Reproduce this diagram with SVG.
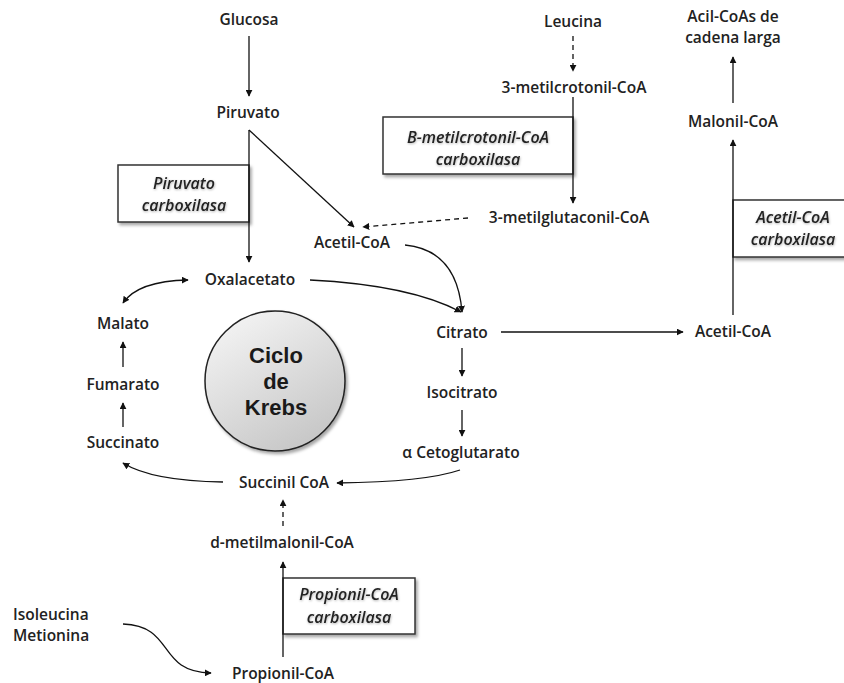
<svg xmlns="http://www.w3.org/2000/svg" width="844" height="683" viewBox="0 0 844 683">
<defs>
<style>
.t{font-family:"Open Sans",Lato,"Liberation Sans",sans-serif;font-size:15.5px;font-weight:600;fill:#222;text-anchor:middle}
.l{text-anchor:start}
.e{font-family:"Open Sans",Lato,"Liberation Sans",sans-serif;font-size:16px;font-style:italic;font-weight:600;fill:#222;text-anchor:middle}
.k{font-family:"Liberation Sans",Arial,sans-serif;font-size:22px;font-weight:bold;fill:#1a1a1a;text-anchor:middle}
.c{fill:none;stroke:#111;stroke-width:1.3}
.d{stroke-dasharray:5,4}
.box{fill:#fff;stroke:#333;stroke-width:1.5}
</style>
<marker id="a" viewBox="0 0 10 10" refX="9" refY="5" markerWidth="7" markerHeight="7" markerUnits="userSpaceOnUse" orient="auto-start-reverse">
<path d="M0,0 L10,5 L0,10 Z" fill="#111"/>
</marker>
<filter id="sh" x="-10%" y="-10%" width="130%" height="140%">
<feDropShadow dx="2" dy="2.5" stdDeviation="1.5" flood-color="#000" flood-opacity="0.35"/>
</filter>
<filter id="ts" x="-10%" y="-30%" width="120%" height="160%">
<feDropShadow dx="0.5" dy="1" stdDeviation="1" flood-color="#000" flood-opacity="0.3"/>
</filter>
<linearGradient id="g" x1="0.2" y1="0" x2="0.8" y2="1">
<stop offset="0" stop-color="#f4f4f4"/>
<stop offset="1" stop-color="#c4c4c4"/>
</linearGradient>
</defs>
<rect width="844" height="683" fill="#fff"/>

<g id="enzymes">
<g id="piruvato-carboxilasa">
<rect class="box" x="118" y="165" width="131" height="57" filter="url(#sh)"/>
<text class="e" x="184" y="189" filter="url(#ts)">Piruvato</text>
<text class="e" x="184" y="211" filter="url(#ts)">carboxilasa</text>
</g>
<g id="bmetilcrotonil-carboxilasa">
<rect class="box" x="383" y="117" width="190" height="57" filter="url(#sh)"/>
<text class="e" x="478" y="143" filter="url(#ts)">B-metilcrotonil-CoA</text>
<text class="e" x="478" y="165" filter="url(#ts)">carboxilasa</text>
</g>
<g id="acetilcoa-carboxilasa">
<rect class="box" x="733" y="200" width="120" height="57" filter="url(#sh)"/>
<text class="e" x="793" y="223" filter="url(#ts)">Acetil-CoA</text>
<text class="e" x="793" y="245" filter="url(#ts)">carboxilasa</text>
</g>
<g id="propionil-carboxilasa">
<rect class="box" x="283" y="578" width="132" height="56" filter="url(#sh)"/>
<text class="e" x="349" y="600" filter="url(#ts)">Propionil-CoA</text>
<text class="e" x="349" y="623" filter="url(#ts)">carboxilasa</text>
</g>
</g>

<g id="connectors">
<line class="c" x1="249" y1="36" x2="249" y2="96" marker-end="url(#a)"/>
<line class="c" x1="249" y1="130" x2="249" y2="262" marker-end="url(#a)"/>
<line class="c" x1="249" y1="130" x2="354" y2="227" marker-end="url(#a)"/>
<line class="c d" x1="573" y1="36" x2="573" y2="71" marker-end="url(#a)"/>
<line class="c" x1="573" y1="97" x2="573" y2="203" marker-end="url(#a)"/>
<line class="c d" x1="468" y1="218" x2="363" y2="227" marker-end="url(#a)"/>
<line class="c" x1="733" y1="103" x2="733" y2="57" marker-end="url(#a)"/>
<line class="c" x1="733" y1="315" x2="733" y2="140" marker-end="url(#a)"/>
<line class="c" x1="501" y1="332" x2="683" y2="332" marker-end="url(#a)"/>
<path class="c" d="M405,245 Q457,250 462,312" marker-end="url(#a)"/>
<path class="c" d="M310,280 Q410,285 461,312" marker-end="url(#a)"/>
<path class="c" d="M188,280 Q138,281 123,303" marker-start="url(#a)" marker-end="url(#a)"/>
<line class="c" x1="123" y1="367" x2="123" y2="342" marker-end="url(#a)"/>
<line class="c" x1="123" y1="427" x2="123" y2="403" marker-end="url(#a)"/>
<line class="c" x1="462" y1="348" x2="462" y2="376" marker-end="url(#a)"/>
<line class="c" x1="462" y1="410" x2="462" y2="436" marker-end="url(#a)"/>
<path class="c" d="M460,470 Q425,482 337,483" marker-end="url(#a)"/>
<path class="c" d="M223,482 Q152,481 123,463" marker-end="url(#a)"/>
<line class="c d" x1="283" y1="526" x2="283" y2="500" marker-end="url(#a)"/>
<line class="c" x1="283" y1="657" x2="283" y2="562" marker-end="url(#a)"/>
<path class="c" d="M123,624 C176,626 156,672 211,673" marker-end="url(#a)"/>
</g>

<g id="krebs">
<circle cx="275" cy="381" r="70" fill="url(#g)" stroke="#222" stroke-width="1.5" filter="url(#sh)"/>
<text class="k" x="276" y="363">Ciclo</text>
<text class="k" x="276" y="389">de</text>
<text class="k" x="276" y="415">Krebs</text>
</g>

<g id="nodes">
<g id="glucosa"><text class="t" x="249" y="25">Glucosa</text></g>
<g id="piruvato"><text class="t" x="248" y="118">Piruvato</text></g>
<g id="acetilcoa1"><text class="t" x="352" y="248">Acetil-CoA</text></g>
<g id="oxalacetato"><text class="t" x="250" y="285">Oxalacetato</text></g>
<g id="malato"><text class="t" x="123" y="329">Malato</text></g>
<g id="fumarato"><text class="t" x="123" y="390">Fumarato</text></g>
<g id="succinato"><text class="t" x="123" y="448">Succinato</text></g>
<g id="succinilcoa"><text class="t" x="284" y="488">Succinil CoA</text></g>
<g id="dmetilmalonil"><text class="t" x="282" y="548">d-metilmalonil-CoA</text></g>
<g id="propionilcoa"><text class="t" x="283" y="679">Propionil-CoA</text></g>
<g id="isoleucina"><text class="t l" x="13" y="620">Isoleucina</text><text class="t l" x="13" y="641">Metionina</text></g>
<g id="leucina"><text class="t" x="573" y="27">Leucina</text></g>
<g id="metilcrotonil"><text class="t" x="574" y="93">3-metilcrotonil-CoA</text></g>
<g id="metilglutaconil"><text class="t" x="569" y="223">3-metilglutaconil-CoA</text></g>
<g id="citrato"><text class="t" x="462" y="338">Citrato</text></g>
<g id="isocitrato"><text class="t" x="462" y="398">Isocitrato</text></g>
<g id="cetoglutarato"><text class="t" x="461" y="458">α Cetoglutarato</text></g>
<g id="acetilcoa2"><text class="t" x="733" y="337">Acetil-CoA</text></g>
<g id="malonilcoa"><text class="t" x="733" y="127">Malonil-CoA</text></g>
<g id="acilcoas"><text class="t" x="733" y="22">Acil-CoAs de</text><text class="t" x="733" y="43">cadena larga</text></g>
</g>
</svg>
